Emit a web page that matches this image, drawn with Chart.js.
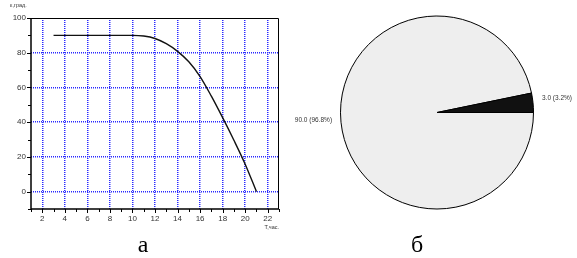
<!DOCTYPE html>
<html>
<head>
<meta charset="utf-8">
<script src="https://cdn.jsdelivr.net/npm/chart.js@4"></script>
<style>
  body { margin: 0; width: 577px; height: 258px; background: #fff; position: relative; overflow: hidden; }
  #grafico { position: absolute; left: 0; top: 0; }
  #pastel { position: absolute; left: 290px; top: 0; }
  .letra { position: absolute; top: 232px; width: 40px; text-align: center; font-family: 'Liberation Serif', 'Times New Roman', serif; font-size: 24px; line-height: 24px; color: #000; }
</style>
</head>
<body>
<canvas id="grafico" width="290" height="232"></canvas>
<canvas id="pastel" width="287" height="230"></canvas>
<div class="letra" style="left:123px">а</div>
<div class="letra" style="left:397px">б</div>
<script>
// datos de la curva (a)
const horas = [3, 10, 11, 12, 13, 14, 15, 16, 17, 18, 19, 20, 21];
const temperatura = [90, 90, 89.6, 88.2, 85.2, 80.8, 74.8, 66.3, 55, 42.6, 29.6, 15.8, 0];
const etiquetasX = [2, 4, 6, 8, 10, 12, 14, 16, 18, 20, 22];
const etiquetasY = [0, 20, 40, 60, 80, 100];

// datos del pastel (б)
const porciones = [90, 3];
const coloresPastel = ['#eeeeee', '#111111'];

const azul = '#2a2aff';
const sinColor = 'rgba(0,0,0,0)';

//marco, marcas de los ejes y nombres de los ejes
const marco = {
  id: 'marco',
  beforeDatasetsDraw(chart) {
    const { ctx, chartArea: a, scales: { x, y } } = chart;
    const l = Math.round(a.left), r = Math.round(a.right) - 0.5;
    const t = Math.round(a.top) + 0.5, b = Math.round(a.bottom);
    ctx.save();
    ctx.strokeStyle = '#000';
    ctx.lineWidth = 1;
    ctx.beginPath();
    ctx.moveTo(l, t); ctx.lineTo(r, t); ctx.lineTo(r, b);
    ctx.stroke();
    ctx.lineWidth = 1.5;
    ctx.beginPath();
    ctx.moveTo(l, t - 0.5); ctx.lineTo(l, b); ctx.lineTo(r + 0.5, b);
    ctx.stroke();

    ctx.lineWidth = 1;
    ctx.beginPath();
    x.ticks.forEach(tk => {
      const px = Math.round(x.getPixelForValue(tk.value)) + 0.5;
      const largo = etiquetasX.includes(tk.value) ? 4 : 3;
      ctx.moveTo(px, b); ctx.lineTo(px, b + largo);
    });
    y.ticks.forEach(tk => {
      const py = Math.round(y.getPixelForValue(tk.value)) + 0.5;
      const largo = etiquetasY.includes(tk.value) ? 4 : 3;
      ctx.moveTo(l - largo, py); ctx.lineTo(l, py);
    });
    ctx.stroke();

    ctx.fillStyle = '#333';
    ctx.font = '5.5px Arial, "Liberation Sans", sans-serif';
    ctx.textBaseline = 'middle';
    ctx.textAlign = 'left';
    ctx.fillText('ε,град.', a.left - 21, a.top - 13);
    ctx.textAlign = 'right';
    ctx.fillText('Т,час.', a.right, a.bottom + 18);
    ctx.restore();
  }
};

//etiquetas del pastel con valor y porcentaje
const etiquetasPastel = {
  id: 'etiquetasPastel',
  afterDatasetsDraw(chart) {
    const { ctx } = chart;
    const valores = chart.data.datasets[0].data;
    const total = valores.reduce((s, v) => s + v, 0);
    ctx.save();
    ctx.fillStyle = '#333';
    ctx.font = '6.5px Arial, "Liberation Sans", sans-serif';
    ctx.textBaseline = 'bottom';
    chart.getDatasetMeta(0).data.forEach((arco, i) => {
      const p = arco.getProps(['x', 'y', 'startAngle', 'endAngle', 'outerRadius']);
      const medio = (p.startAngle + p.endAngle) / 2;
      const dist = p.outerRadius + 9;
      const tx = p.x + Math.cos(medio) * dist;
      const ty = p.y + Math.sin(medio) * dist;
      const texto = valores[i].toFixed(1) + ' (' + (valores[i] / total * 100).toFixed(1) + '%)';
      ctx.textAlign = Math.cos(medio) >= 0 ? 'left' : 'right';
      ctx.fillText(texto, tx, ty);
    });
    ctx.restore();
  }
};

function crearGrafico() {
  const puntos = horas.map((h, i) => ({ x: h, y: temperatura[i] }));
  new Chart(document.getElementById('grafico'), {
    type: 'line',
    data: {
      datasets: [{
        data: puntos,
        borderColor: '#111',
        borderWidth: 1.4,
        pointRadius: 0,
        fill: false,
        cubicInterpolationMode: 'monotone'
      }]
    },
    options: {
      responsive: false,
      animation: false,
      layout: { padding: { left: 0, right: 11, top: 18, bottom: 0 } },
      plugins: { legend: { display: false }, tooltip: { enabled: false } },
      scales: {
        x: {
          type: 'linear',
          min: 1,
          max: 23,
          afterFit: (s) => { s.height = 23; },
          border: { display: false, dash: [1, 1] },
          grid: {
            drawTicks: false,
            lineWidth: 1.5,
            color: (c) => etiquetasX.includes(c.tick.value) ? azul : sinColor
          },
          ticks: {
            stepSize: 1,
            autoSkip: false,
            maxRotation: 0,
            padding: 5,
            color: '#333',
            font: { size: 8, family: 'Arial, "Liberation Sans", sans-serif' },
            callback: (v) => etiquetasX.includes(v) ? v : ''
          }
        },
        y: {
          min: -10,
          max: 100,
          afterFit: (s) => { s.width = 31; },
          border: { display: false, dash: [1, 1] },
          grid: {
            drawTicks: false,
            lineWidth: 1.5,
            color: (c) => (etiquetasY.includes(c.tick.value) && c.tick.value < 100) ? azul : sinColor
          },
          ticks: {
            stepSize: 10,
            autoSkip: false,
            padding: 5,
            color: '#333',
            font: { size: 8, family: 'Arial, "Liberation Sans", sans-serif' },
            callback: (v) => etiquetasY.includes(v) ? v : ''
          }
        }
      }
    },
    plugins: [marco]
  });
}

function crearPastel() {
  new Chart(document.getElementById('pastel'), {
    type: 'pie',
    data: {
      labels: porciones.map(v => v.toFixed(1)),
      datasets: [{
        data: porciones,
        backgroundColor: coloresPastel,
        borderColor: '#000',
        borderWidth: 1
      }]
    },
    options: {
      responsive: false,
      animation: false,
      rotation: 90,
      radius: 96.5,
      layout: { padding: { left: 7, right: 0, top: 0, bottom: 5 } },
      plugins: { legend: { display: false }, tooltip: { enabled: false } }
    },
    plugins: [etiquetasPastel]
  });
}

crearGrafico();
crearPastel();
</script>
</body>
</html>
